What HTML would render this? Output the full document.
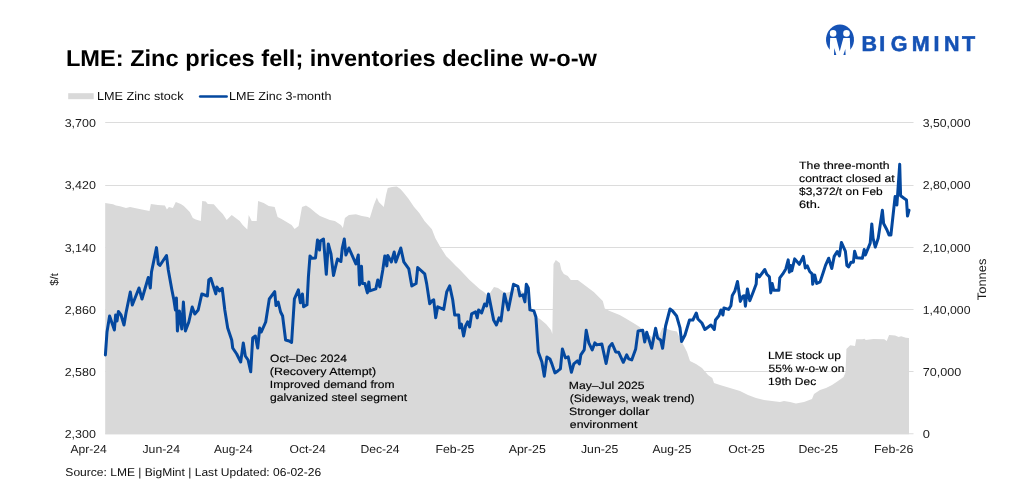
<!DOCTYPE html>
<html><head><meta charset="utf-8"><title>LME: Zinc prices fell; inventories decline w-o-w</title>
<style>
html,body{margin:0;padding:0;background:#fff;}
body{width:1023px;height:501px;overflow:hidden;position:relative;}
svg{position:absolute;left:0;top:0;display:block;}
text{font-family:"Liberation Sans",Arial,sans-serif;fill:#1a1a1a;text-rendering:geometricPrecision;}
.t{font-weight:bold;font-size:21.8px;fill:#000;text-rendering:geometricPrecision;}
.lg{font-size:11.4px;fill:#0d0d0d;}
.ax{font-size:11.2px;fill:#1a1a1a;}
.an{font-size:10.6px;fill:#000;stroke:#000;stroke-width:0.15px;}
.src{font-size:11.4px;fill:#0d0d0d;}
.grid line{stroke:#dcdcdc;stroke-width:1.1;}
.logo{font-weight:bold;font-size:21.5px;fill:#1552b5;stroke:#1552b5;stroke-width:0.55px;}
</style></head>
<body>
<svg width="1023" height="501" viewBox="0 0 1023 501">
<g class="grid">
<line x1="105.2" x2="913.5" y1="122.5" y2="122.5"/>
<line x1="105.2" x2="913.5" y1="185.5" y2="185.5"/>
<line x1="105.2" x2="913.5" y1="247.5" y2="247.5"/>
<line x1="105.2" x2="913.5" y1="309.5" y2="309.5"/>
<line x1="105.2" x2="913.5" y1="371.5" y2="371.5"/>
<line x1="105.2" x2="913.5" y1="433.8" y2="433.8"/>
</g>
<polygon points="105.2,434.3 105.2,202.9 113.0,204.3 116.0,205.5 120.0,206.3 126.0,207.9 130.0,207.1 135.9,208.3 141.9,209.5 149.5,210.9 150.9,203.9 157.9,204.9 164.9,205.5 166.9,209.5 168.9,206.9 172.9,207.9 175.8,201.9 180.8,203.9 183.8,205.9 189.8,211.9 192.8,217.9 195.8,219.5 200.8,220.9 202.2,200.9 205.8,201.5 207.8,203.9 213.8,204.3 218.8,209.9 222.8,213.9 226.7,219.9 231.7,214.9 235.7,217.9 239.7,220.9 242.7,224.9 247.3,229.5 248.7,214.9 251.7,220.9 256.7,220.9 258.1,200.9 263.7,202.9 268.7,205.9 274.7,206.9 277.6,216.9 281.6,218.9 286.6,221.9 291.6,224.9 294.6,228.9 298.6,225.9 302.0,206.9 306.0,205.5 310.0,207.9 316.0,212.9 320.0,215.9 329.9,219.9 334.9,220.9 340.9,224.9 342.9,227.9 344.9,217.9 348.9,214.9 355.9,214.3 361.9,215.9 367.8,216.9 369.8,217.9 373.8,204.9 376.8,197.5 378.8,201.9 383.8,206.9 386.0,195.0 387.8,188.0 392.0,187.0 396.8,186.5 400.4,188.9 403.5,192.5 408.5,198.7 413.9,206.8 419.3,213.1 424.7,221.2 429.0,226.0 431.9,229.3 435.4,238.3 439.9,246.3 446.2,256.2 449.7,259.5 455.7,265.8 459.7,269.5 469.6,280.0 479.6,289.0 484.0,292.0 488.0,295.9 494.0,286.9 498.0,287.9 505.0,292.9 510.0,291.9 513.0,288.0 520.0,290.0 526.0,294.0 529.0,300.0 533.0,311.9 538.0,317.9 540.0,319.0 546.0,324.0 551.0,330.0 552.3,334.0 553.5,264.0 555.8,260.0 559.8,263.0 561.4,270.0 563.8,274.0 567.8,276.0 570.8,280.0 577.8,280.0 581.8,283.0 585.8,286.0 593.8,292.0 599.8,298.0 602.8,301.0 604.8,308.5 609.7,311.0 619.7,315.0 625.0,318.0 630.0,321.0 635.0,324.0 639.7,327.0 645.0,332.0 652.0,337.0 658.0,339.0 660.6,332.0 662.6,327.5 667.6,329.3 671.6,330.5 677.0,331.5 680.0,339.0 684.0,346.0 687.0,352.0 690.0,361.0 696.0,364.0 702.0,368.0 708.0,375.0 712.3,378.0 714.0,383.0 720.0,385.0 730.0,388.0 740.0,391.0 748.0,395.0 756.0,398.0 764.0,400.0 772.0,401.0 780.0,402.0 784.0,401.0 790.0,402.0 796.0,403.5 804.0,402.0 812.0,399.0 814.0,394.0 820.0,390.0 826.0,388.0 832.0,385.0 838.0,381.0 843.6,377.0 845.6,372.0 846.4,348.9 850.2,345.3 855.0,345.9 856.2,339.3 862.2,339.3 864.6,338.7 865.7,339.9 873.5,339.1 884.3,339.3 886.7,340.9 889.1,334.9 895.1,335.4 898.7,336.9 901.1,336.3 905.9,337.8 908.9,338.1 909.0,338.1 909.0,434.3" fill="#d9d9d9"/>
<polyline points="105.4,354.9 107.0,332.0 109.6,316.0 114.4,330.0 115.6,315.0 117.0,321.0 118.4,311.5 121.0,315.0 124.0,325.0 126.0,313.0 130.3,292.0 132.3,305.0 139.0,288.0 142.0,299.0 148.3,277.5 150.3,288.0 151.5,272.0 156.5,247.6 158.3,264.0 159.9,265.5 166.5,255.5 168.3,270.0 171.9,290.0 173.9,300.0 175.4,310.0 176.4,298.0 177.4,331.0 179.4,311.0 181.8,329.0 183.4,302.0 185.4,331.0 188.8,322.0 192.2,307.0 194.8,314.0 198.2,310.0 201.8,294.0 207.4,296.0 208.8,280.0 210.8,278.3 215.8,293.9 216.8,286.9 219.4,290.9 222.2,288.3 224.8,310.0 227.7,328.0 231.7,340.0 232.7,348.0 236.7,354.0 240.7,362.0 243.3,343.0 245.3,356.0 248.1,360.0 250.7,371.8 252.7,338.0 255.3,336.0 257.7,348.0 259.7,328.0 261.3,332.0 265.7,322.0 269.3,299.0 274.7,291.6 276.0,305.6 278.2,302.0 280.6,312.0 282.6,316.0 285.6,340.0 289.2,341.0 291.6,342.5 294.4,298.8 298.4,289.9 300.4,302.8 302.4,293.9 303.6,306.8 307.0,304.8 308.4,276.9 310.0,255.9 312.0,258.3 315.5,257.9 317.5,240.0 319.5,250.0 320.3,241.0 323.5,239.0 326.3,274.3 328.3,244.0 331.0,254.0 333.5,275.5 335.5,267.0 337.5,259.0 340.9,261.5 342.3,248.0 344.3,239.0 345.9,255.0 348.9,248.0 355.9,264.0 358.3,255.0 359.5,284.9 361.5,266.3 362.3,283.5 364.9,283.5 367.4,292.9 368.8,281.9 369.8,290.9 375.8,288.9 377.8,279.9 379.8,286.9 382.8,269.9 384.8,255.9 386.8,265.9 387.8,255.5 391.4,261.9 394.2,252.0 395.8,262.0 400.8,248.0 403.8,261.9 408.8,268.9 411.8,285.9 416.1,283.5 417.7,267.5 424.7,273.9 426.7,283.9 429.7,303.8 432.1,300.8 433.7,299.8 435.7,317.8 437.7,306.8 443.7,309.4 446.7,291.9 449.7,285.9 452.7,299.8 454.7,315.0 458.7,315.0 459.6,328.0 461.4,324.0 463.6,335.9 465.6,325.9 467.6,321.9 469.6,326.9 471.6,313.9 475.6,311.9 477.2,317.9 478.6,309.9 481.6,312.9 484.6,304.0 486.6,306.0 488.5,294.0 493.6,319.9 496.4,324.9 499.0,317.9 501.0,320.9 504.4,293.9 508.3,309.9 513.5,284.3 517.9,286.3 519.9,295.9 522.9,294.9 524.9,301.9 526.3,284.3 528.3,287.9 529.9,309.9 533.9,310.9 535.9,317.0 538.3,352.0 541.9,361.9 544.3,376.2 546.9,356.9 549.9,358.9 551.9,363.9 554.9,372.9 557.8,370.9 560.4,368.9 562.4,348.9 565.4,357.9 568.2,356.9 571.4,372.3 573.8,363.9 577.4,360.9 579.4,363.9 580.8,354.9 584.2,349.9 586.2,330.3 588.8,342.9 592.2,349.9 594.8,342.9 596.8,344.9 601.8,343.9 606.1,363.5 609.3,346.9 612.1,343.5 615.7,351.9 618.7,352.3 623.3,362.3 626.7,354.9 628.7,358.9 631.7,359.9 635.7,348.9 638.1,330.9 642.7,330.3 644.7,341.9 646.7,332.3 651.7,348.3 655.6,328.3 657.6,337.9 660.6,339.9 662.6,348.3 665.6,326.0 670.0,309.0 672.6,311.0 676.6,316.0 680.0,327.9 681.6,341.5 685.0,335.0 689.5,320.0 692.9,320.0 696.3,313.0 697.9,319.0 701.9,323.0 704.9,329.5 710.9,325.0 714.3,329.5 715.5,320.0 718.9,315.8 720.9,310.0 722.9,315.0 723.9,308.0 728.6,309.4 730.9,305.8 732.3,295.4 734.9,290.9 737.5,281.5 740.3,301.4 742.9,296.2 744.3,295.8 745.4,306.2 747.4,288.9 749.8,300.8 753.4,291.5 756.2,283.9 756.8,273.9 759.4,276.9 764.8,269.5 766.8,274.3 769.4,276.9 770.8,292.9 772.2,283.5 773.8,290.3 778.8,290.3 779.8,277.9 782.8,273.9 785.8,268.9 788.2,259.9 789.4,272.3 790.8,265.5 791.8,270.9 794.7,258.9 799.3,264.3 803.3,256.3 805.3,267.9 807.3,265.9 809.7,271.5 812.1,273.9 812.7,284.3 814.7,274.9 816.7,283.5 820.1,281.9 823.3,272.3 825.5,265.4 828.7,258.2 831.8,268.5 834.2,256.4 837.2,251.5 839.4,255.9 841.4,242.4 845.4,251.3 846.9,265.5 848.5,267.0 851.0,262.2 853.4,262.2 854.6,251.3 856.6,257.8 862.4,258.2 864.2,249.5 865.4,255.0 870.2,243.1 871.8,223.9 873.1,238.3 875.3,247.1 878.2,238.3 880.6,222.3 882.4,210.3 883.6,223.5 887.0,230.0 889.0,235.0 890.9,235.0 895.1,196.6 896.9,205.0 899.7,164.3 900.6,195.7 904.0,198.3 906.5,200.0 907.5,216.1 909.0,210.3" fill="none" stroke="#04489f" stroke-width="3.0" stroke-linejoin="round" stroke-linecap="round"/>
<g id="logo" fill="#1552b5">
  <path d="M826.1,38 A14,15.2 0 0 1 853.9,38 Z"/>
  <path d="M826.1,37.8 A14,15.2 0 0 0 829.7,49.7 L830.2,37.8 Z"/>
  <path d="M853.9,37.8 A14,15.2 0 0 1 850.3,49.7 L849.8,37.8 Z"/>
  <path d="M836.1,37.5 L843.5,37.5 L839.7,51.4 Z"/>
  <path d="M834.3,48.1 L834.0,54.9 L836.3,54.9 Z"/>
  <path d="M845.3,48.9 L845.6,54.9 L843.4,54.9 Z"/>
  <circle cx="833.1" cy="33.4" r="3.3" fill="#fff"/>
  <circle cx="846.5" cy="33.4" r="3.3" fill="#fff"/>
</g>
<text class="logo" y="50.5" text-anchor="middle"><tspan x="869.2">B</tspan><tspan x="882.2">I</tspan><tspan x="899.0">G</tspan><tspan x="920.7">M</tspan><tspan x="936.6">I</tspan><tspan x="951.8">N</tspan><tspan x="968.6">T</tspan></text>
<rect x="68.2" y="93.2" width="25.5" height="6" fill="#d9d9d9"/>
<line x1="200.2" x2="226.6" y1="96.5" y2="96.5" stroke="#04489f" stroke-width="2.7" stroke-linecap="round"/>
<text class="ax" transform="translate(58.2,279.5) rotate(-90)" text-anchor="middle" textLength="12.6" lengthAdjust="spacingAndGlyphs">$/t</text>
<text class="ax" style="font-size:12.3px" transform="translate(986.4,279.4) rotate(-90)" text-anchor="middle" textLength="41.6" lengthAdjust="spacingAndGlyphs">Tonnes</text>

<text class="t" style="font-size:23.0px" x="65.94" y="65.9" textLength="530.99" lengthAdjust="spacingAndGlyphs">LME: Zinc prices fell; inventories decline w-o-w</text>
<text class="lg" style="font-size:11.7px" x="97.00" y="100.0" textLength="86.46" lengthAdjust="spacingAndGlyphs">LME Zinc stock</text>
<text class="lg" style="font-size:11.7px" x="228.99" y="100.0" textLength="102.55" lengthAdjust="spacingAndGlyphs">LME Zinc 3-month</text>
<text class="ax" style="font-size:11.5px" x="64.71" y="127.0" textLength="31.13" lengthAdjust="spacingAndGlyphs">3,700</text>
<text class="ax" style="font-size:11.5px" x="64.71" y="189.1" textLength="31.13" lengthAdjust="spacingAndGlyphs">3,420</text>
<text class="ax" style="font-size:11.5px" x="64.71" y="251.6" textLength="31.13" lengthAdjust="spacingAndGlyphs">3,140</text>
<text class="ax" style="font-size:11.5px" x="64.68" y="313.6" textLength="31.16" lengthAdjust="spacingAndGlyphs">2,860</text>
<text class="ax" style="font-size:11.5px" x="64.68" y="375.9" textLength="31.16" lengthAdjust="spacingAndGlyphs">2,580</text>
<text class="ax" style="font-size:11.5px" x="64.68" y="437.8" textLength="31.16" lengthAdjust="spacingAndGlyphs">2,300</text>
<text class="ax" style="font-size:11.5px" x="922.71" y="127.0" textLength="47.77" lengthAdjust="spacingAndGlyphs">3,50,000</text>
<text class="ax" style="font-size:11.5px" x="922.69" y="189.1" textLength="47.79" lengthAdjust="spacingAndGlyphs">2,80,000</text>
<text class="ax" style="font-size:11.5px" x="922.69" y="251.6" textLength="47.79" lengthAdjust="spacingAndGlyphs">2,10,000</text>
<text class="ax" style="font-size:11.5px" x="922.80" y="313.6" textLength="47.69" lengthAdjust="spacingAndGlyphs">1,40,000</text>
<text class="ax" style="font-size:11.5px" x="922.68" y="375.9" textLength="38.49" lengthAdjust="spacingAndGlyphs">70,000</text>
<text class="ax" style="font-size:11.5px" x="922.77" y="437.8" textLength="7.17" lengthAdjust="spacingAndGlyphs">0</text>
<text class="ax" style="font-size:11.5px" x="70.40" y="452.6" textLength="36.33" lengthAdjust="spacingAndGlyphs">Apr-24</text>
<text class="ax" style="font-size:11.5px" x="142.44" y="452.6" textLength="37.55" lengthAdjust="spacingAndGlyphs">Jun-24</text>
<text class="ax" style="font-size:11.5px" x="214.08" y="452.6" textLength="38.46" lengthAdjust="spacingAndGlyphs">Aug-24</text>
<text class="ax" style="font-size:11.5px" x="289.49" y="452.6" textLength="36.24" lengthAdjust="spacingAndGlyphs">Oct-24</text>
<text class="ax" style="font-size:11.5px" x="360.41" y="452.6" textLength="39.19" lengthAdjust="spacingAndGlyphs">Dec-24</text>
<text class="ax" style="font-size:11.5px" x="435.40" y="452.6" textLength="39.06" lengthAdjust="spacingAndGlyphs">Feb-25</text>
<text class="ax" style="font-size:11.5px" x="508.70" y="452.6" textLength="37.12" lengthAdjust="spacingAndGlyphs">Apr-25</text>
<text class="ax" style="font-size:11.5px" x="581.00" y="452.6" textLength="37.42" lengthAdjust="spacingAndGlyphs">Jun-25</text>
<text class="ax" style="font-size:11.5px" x="652.54" y="452.6" textLength="38.88" lengthAdjust="spacingAndGlyphs">Aug-25</text>
<text class="ax" style="font-size:11.5px" x="728.32" y="452.6" textLength="36.58" lengthAdjust="spacingAndGlyphs">Oct-25</text>
<text class="ax" style="font-size:11.5px" x="798.42" y="452.6" textLength="39.61" lengthAdjust="spacingAndGlyphs">Dec-25</text>
<text class="ax" style="font-size:11.5px" x="874.00" y="452.6" textLength="39.42" lengthAdjust="spacingAndGlyphs">Feb-26</text>
<text class="src" style="font-size:11.4px" x="65.37" y="476.1" textLength="255.86" lengthAdjust="spacingAndGlyphs">Source: LME | BigMint | Last Updated: 06-02-26</text>
<text class="an" style="font-size:10.6px" x="270.08" y="361.7" textLength="76.78" lengthAdjust="spacingAndGlyphs">Oct–Dec 2024</text>
<text class="an" style="font-size:10.6px" x="269.84" y="374.7" textLength="106.33" lengthAdjust="spacingAndGlyphs">(Recovery Attempt)</text>
<text class="an" style="font-size:10.6px" x="269.79" y="387.5" textLength="124.77" lengthAdjust="spacingAndGlyphs">Improved demand from</text>
<text class="an" style="font-size:10.6px" x="269.90" y="400.5" textLength="137.24" lengthAdjust="spacingAndGlyphs">galvanized steel segment</text>
<text class="an" style="font-size:10.6px" x="568.87" y="388.8" textLength="75.70" lengthAdjust="spacingAndGlyphs">May–Jul 2025</text>
<text class="an" style="font-size:10.6px" x="569.80" y="402.0" textLength="124.81" lengthAdjust="spacingAndGlyphs">(Sideways, weak trend)</text>
<text class="an" style="font-size:10.6px" x="569.06" y="414.6" textLength="80.19" lengthAdjust="spacingAndGlyphs">Stronger dollar</text>
<text class="an" style="font-size:10.6px" x="569.82" y="427.6" textLength="67.53" lengthAdjust="spacingAndGlyphs">environment</text>
<text class="an" style="font-size:10.6px" x="767.92" y="358.7" textLength="72.97" lengthAdjust="spacingAndGlyphs">LME stock up</text>
<text class="an" style="font-size:10.6px" x="768.60" y="371.6" textLength="75.68" lengthAdjust="spacingAndGlyphs">55% w-o-w on</text>
<text class="an" style="font-size:10.6px" x="768.11" y="384.6" textLength="48.13" lengthAdjust="spacingAndGlyphs">19th Dec</text>
<text class="an" style="font-size:10.6px" x="799.13" y="168.8" textLength="90.35" lengthAdjust="spacingAndGlyphs">The three-month</text>
<text class="an" style="font-size:10.6px" x="799.11" y="181.9" textLength="95.53" lengthAdjust="spacingAndGlyphs">contract closed at</text>
<text class="an" style="font-size:10.6px" x="799.04" y="194.7" textLength="83.65" lengthAdjust="spacingAndGlyphs">$3,372/t on Feb</text>
<text class="an" style="font-size:10.6px" x="799.04" y="207.5" textLength="21.24" lengthAdjust="spacingAndGlyphs">6th.</text>
</svg>
</body></html>
